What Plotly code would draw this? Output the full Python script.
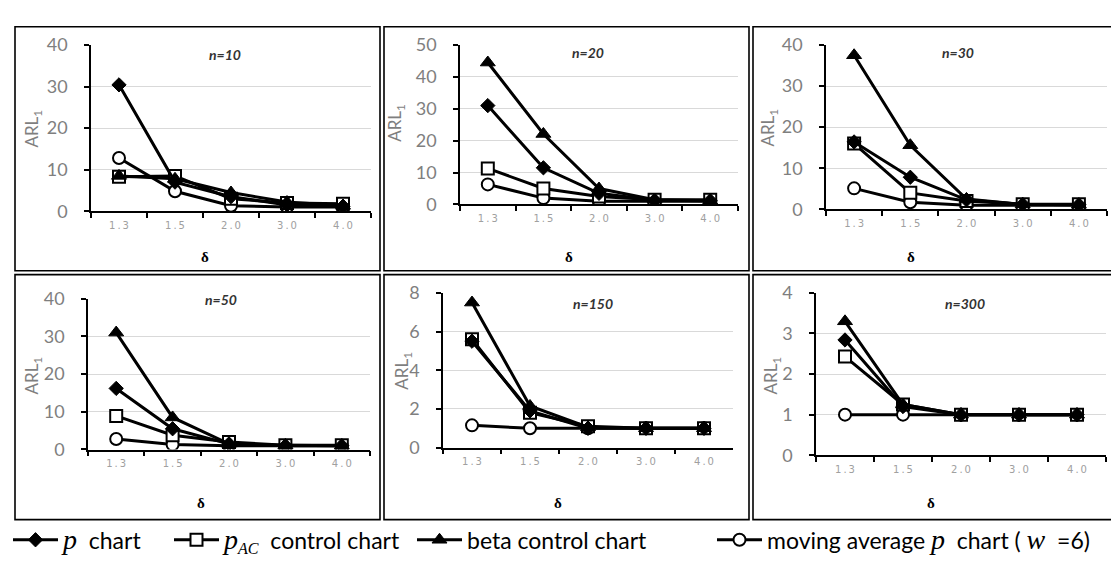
import plotly.graph_objects as go

# ---------------- data ----------------
categories = ["1.3", "1.5", "2.0", "3.0", "4.0"]
sample_sizes = [10, 20, 30, 50, 150, 300]

# ARL1 per panel (n = 10, 20, 30, 50, 150, 300), values over delta categories
p_chart = [
    [30.4, 7.0, 3.5, 1.5, 1.2],
    [31.0, 11.5, 3.5, 1.3, 1.2],
    [16.4, 7.8, 2.3, 1.2, 1.1],
    [16.2, 5.5, 1.5, 1.0, 1.0],
    [5.5, 1.9, 1.0, 1.0, 1.0],
    [2.84, 1.2, 1.0, 1.0, 1.0],
]
pac_chart = [
    [8.3, 8.5, 3.0, 2.0, 1.8],
    [11.3, 5.0, 2.5, 1.5, 1.5],
    [16.0, 4.0, 2.0, 1.2, 1.2],
    [8.9, 3.8, 2.0, 1.1, 1.1],
    [5.6, 1.8, 1.1, 1.0, 1.0],
    [2.43, 1.25, 1.0, 1.0, 1.0],
]
beta_chart = [
    [8.5, 7.8, 4.5, 2.2, 1.3],
    [44.5, 22.1, 5.0, 1.5, 1.2],
    [37.5, 15.6, 2.5, 1.2, 1.1],
    [31.0, 8.5, 1.5, 1.1, 1.0],
    [7.5, 2.15, 1.05, 1.0, 1.0],
    [3.3, 1.25, 1.0, 1.0, 1.0],
]
ma_chart = [
    [12.8, 4.8, 1.3, 1.0, 1.0],
    [6.3, 2.0, 1.0, 1.0, 1.0],
    [5.1, 1.7, 1.0, 1.0, 1.0],
    [2.8, 1.3, 1.0, 1.0, 1.0],
    [1.15, 1.0, 1.0, 1.0, 1.0],
    [1.0, 1.0, 1.0, 1.0, 1.0],
]
y_max = [40, 50, 40, 40, 8, 4]
y_step = [10, 10, 10, 10, 2, 1]

SERIF = "font-family:Liberation Serif;font-size:28px"
series_names = [
    "<span style='%s'><i>p</i></span>  chart" % SERIF,
    "<span style='%s'><i>p</i></span><span style='font-family:Liberation Serif'><sub><i>AC</i></sub></span>  control chart" % SERIF,
    "beta control chart",
    "moving average <span style='%s'><i>p</i></span>  chart ( <span style='%s'><i>w</i></span>  =6)" % (SERIF, SERIF),
]

# ---------------- layout geometry (pixels) ----------------
W, H = 1119, 562
# plot area: left, right, y(zero), y(max)
boxes = [(83, 363, 199, 26), (452, 730, 192, 26), (818, 1099, 197, 26),
         (80, 362, 447, 290), (435, 725, 445, 284), (808, 1098, 453, 284)]
frames = [(7, 7, 372, 261), (376, 7, 741, 261), (745, 7, 1110, 261),
          (7, 265, 372, 520), (376, 265, 741, 520), (745, 265, 1110, 520)]
title_pos = [(217, 35), (580, 33), (950, 33), (213, 290), (585, 295), (957, 295)]
delta_pos = [(197, 247), (561, 247), (903, 247), (193, 503), (550, 503), (923, 503)]
arl_pos = [(25, 113), (388, 107), (761, 112), (25, 370), (395, 365), (764, 370)]
legend_x = [0, 161, 404, 704]

def px(x):
    return x / W

def py(y):
    return 1 - y / H

TICKFONT = dict(family="Lato", size=18, color="#7f7f7f")
ticktext = ["\u2009".join(list(c)) for c in categories]

fig = go.Figure()

styles = {
    "p": dict(symbol="diamond", size=11, color="black", line=dict(color="black", width=1)),
    "pac": dict(symbol="square", size=12, color="white", line=dict(color="black", width=2)),
    "beta": dict(symbol="triangle-up", size=13, color="black", line=dict(color="black", width=1)),
    "ma": dict(symbol="circle", size=12, color="white", line=dict(color="black", width=2)),
}
legend_ids = {"p": "legend", "pac": "legend2", "beta": "legend3", "ma": "legend4"}
name_idx = {"p": 0, "pac": 1, "beta": 2, "ma": 3}

for i in range(6):
    ax = "" if i == 0 else str(i + 1)
    data = {"ma": ma_chart[i], "pac": pac_chart[i], "p": p_chart[i], "beta": beta_chart[i]}
    for key in ["ma", "pac", "p", "beta"]:
        fig.add_trace(go.Scatter(
            x=categories, y=data[key], mode="lines+markers",
            line=dict(color="black", width=3),
            marker=styles[key],
            name=series_names[name_idx[key]],
            showlegend=(i == 0), legend=legend_ids[key],
            xaxis="x" + ax, yaxis="y" + ax,
        ))
    l, r, y0, y1 = boxes[i]
    fig.layout["xaxis" + ax] = dict(
        domain=[px(l), px(r)], anchor="y" + ax, type="category",
        range=[-0.5, 4.5], tickson="boundaries", ticks="outside", ticklen=5,
        tickcolor="black", tickwidth=1.5, showline=True, linecolor="black", linewidth=1.5,
        showgrid=False, zeroline=False, tickmode="array", tickvals=categories,
        ticktext=ticktext,
        tickfont=dict(family="DejaVu Sans", size=10, color="#a0a0a0"),
        ticklabelstandoff=4,
    )
    fig.layout["yaxis" + ax] = dict(
        domain=[py(y0), py(y1)], anchor="x" + ax, range=[0, y_max[i]],
        dtick=y_step[i], tick0=0, ticks="outside", ticklen=5, tickcolor="black",
        tickwidth=1.5, showline=True, linecolor="black", linewidth=1.5,
        showgrid=True, gridcolor="#d9d9d9", gridwidth=1, zeroline=False,
        tickfont=TICKFONT, ticklabelstandoff=13,
    )
    # panel frame
    fx0, fy0, fx1, fy1 = frames[i]
    fig.add_shape(type="rect", xref="paper", yref="paper",
                  x0=px(fx0), x1=px(fx1), y0=py(fy1), y1=py(fy0),
                  line=dict(color="black", width=1.6), fillcolor="rgba(0,0,0,0)", layer="above")
    tx, ty = title_pos[i]
    fig.add_annotation(xref="paper", yref="paper", x=px(tx), y=py(ty),
                       text="<b><i>n=%d</i></b>" % sample_sizes[i], showarrow=False,
                       font=dict(family="Lato", size=14, color="#333333"),
                       bgcolor="white", width=64, height=24, xanchor="center", yanchor="middle")
    dx, dy = delta_pos[i]
    fig.add_annotation(xref="paper", yref="paper", x=px(dx), y=py(dy), text="<b>δ</b>",
                       showarrow=False, font=dict(family="Liberation Serif", size=15, color="black"),
                       xanchor="center", yanchor="middle")
    axx, axy = arl_pos[i]
    fig.add_annotation(xref="paper", yref="paper", x=px(axx), y=py(axy), text="ARL<sub>1</sub>",
                       showarrow=False, textangle=-90,
                       font=dict(family="Lato", size=17, color="#7f7f7f"),
                       xanchor="center", yanchor="middle")

leg_common = dict(orientation="h", y=py(541), yanchor="middle", xanchor="left",
                  bgcolor="rgba(0,0,0,0)", font=dict(family="Lato", size=23, color="black"),
                  itemwidth=45)
fig.update_layout(
    width=W, height=H, margin=dict(l=0, r=0, t=0, b=0),
    paper_bgcolor="white", plot_bgcolor="white", showlegend=True,
    legend=dict(x=px(legend_x[0]), **leg_common),
    legend2=dict(x=px(legend_x[1]), **leg_common),
    legend3=dict(x=px(legend_x[2]), **leg_common),
    legend4=dict(x=px(legend_x[3]), **leg_common),
)

fig.write_html("out.html")
